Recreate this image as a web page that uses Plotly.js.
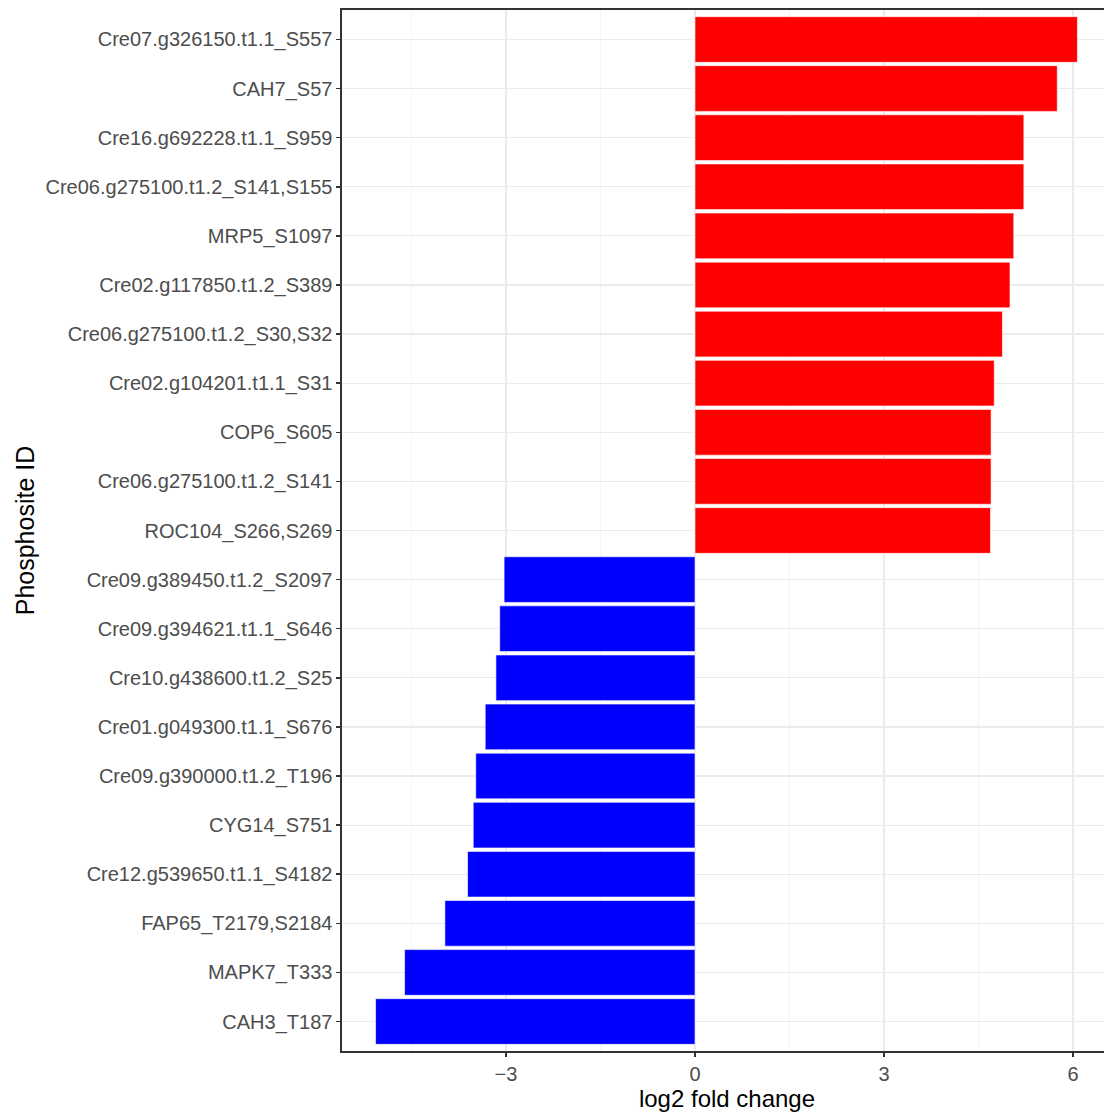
<!DOCTYPE html>
<html>
<head>
<meta charset="utf-8">
<script src="https://cdn.plot.ly/plotly-3.0.1.min.js"></script>
<style>
html, body { margin: 0; padding: 0; overflow: hidden; background: #ffffff; }
#chart { width: 1130px; height: 1113px; }
</style>
</head>
<body>
<div id="chart"></div>
<script>
// Categories, listed top to bottom
const siteIds = [
  "Cre07.g326150.t1.1_S557",
  "CAH7_S57",
  "Cre16.g692228.t1.1_S959",
  "Cre06.g275100.t1.2_S141,S155",
  "MRP5_S1097",
  "Cre02.g117850.t1.2_S389",
  "Cre06.g275100.t1.2_S30,S32",
  "Cre02.g104201.t1.1_S31",
  "COP6_S605",
  "Cre06.g275100.t1.2_S141",
  "ROC104_S266,S269",
  "Cre09.g389450.t1.2_S2097",
  "Cre09.g394621.t1.1_S646",
  "Cre10.g438600.t1.2_S25",
  "Cre01.g049300.t1.1_S676",
  "Cre09.g390000.t1.2_T196",
  "CYG14_S751",
  "Cre12.g539650.t1.1_S4182",
  "FAP65_T2179,S2184",
  "MAPK7_T333",
  "CAH3_T187"
];

// log2 fold change values
const foldChange = [
  6.07, 5.75, 5.22, 5.22, 5.06, 5.00, 4.88, 4.75, 4.70, 4.70, 4.69,
  -3.03, -3.10, -3.16, -3.33, -3.48, -3.52, -3.61, -3.97, -4.61, -5.07
];

// x-axis ticks
const xTicks = [-3, 0, 3, 6];
const xTickLabels = ["\u22123", "0", "3", "6"];
const xMinorTicks = [-4.5, -1.5, 1.5, 4.5];

const barColors = foldChange.map(v => v > 0 ? "#FF0000" : "#0000FF");
const n = siteIds.length;

const trace = {
  type: "bar",
  orientation: "h",
  x: foldChange,
  y: siteIds,
  width: 0.93,
  marker: { color: barColors, line: { color: "#ffffff", width: 0.6 } },
  hoverinfo: "x+y"
};

const fontFam = "Liberation Sans, Arial, sans-serif";

const layout = {
  width: 1130,
  height: 1113,
  margin: { l: 342, r: 18, t: 10, b: 62, pad: 0 },
  paper_bgcolor: "#ffffff",
  plot_bgcolor: "#ffffff",
  showlegend: false,
  bargap: 0,
  font: { family: fontFam },
  xaxis: {
    range: [-5.603, 6.619],
    tickmode: "array",
    tickvals: xTicks,
    ticktext: xTickLabels,
    showgrid: true,
    gridcolor: "#ebebeb",
    gridwidth: 1.2,
    zeroline: false,
    showline: true,
    mirror: true,
    linecolor: "#333333",
    linewidth: 1.6,
    ticks: "outside",
    ticklen: 4,
    tickwidth: 1.5,
    tickcolor: "#333333",
    tickfont: { family: fontFam, size: 20, color: "#4d4d4d" },
    minor: { tickmode: "array", tickvals: xMinorTicks, showgrid: true, gridcolor: "#f4f4f4", gridwidth: 1, ticks: "" },
    title: { text: "log2 fold change", font: { family: fontFam, size: 24, color: "#000000" }, standoff: 4 },
    automargin: false,
    fixedrange: true
  },
  yaxis: {
    type: "category",
    categoryorder: "array",
    categoryarray: siteIds,
    range: [n - 1 + 0.6, -0.6],
    showgrid: true,
    gridcolor: "#ebebeb",
    gridwidth: 1.2,
    zeroline: false,
    showline: true,
    mirror: true,
    linecolor: "#333333",
    linewidth: 1.6,
    ticks: "outside",
    ticklen: 4,
    tickwidth: 1.5,
    tickcolor: "#333333",
    tickfont: { family: fontFam, size: 20, color: "#4d4d4d" },
    title: { text: "Phosphosite ID", font: { family: fontFam, size: 25, color: "#000000" }, standoff: 4 },
    automargin: false,
    fixedrange: true
  }
};

Plotly.newPlot("chart", [trace], layout, { displayModeBar: false, staticPlot: true });
</script>
</body>
</html>
